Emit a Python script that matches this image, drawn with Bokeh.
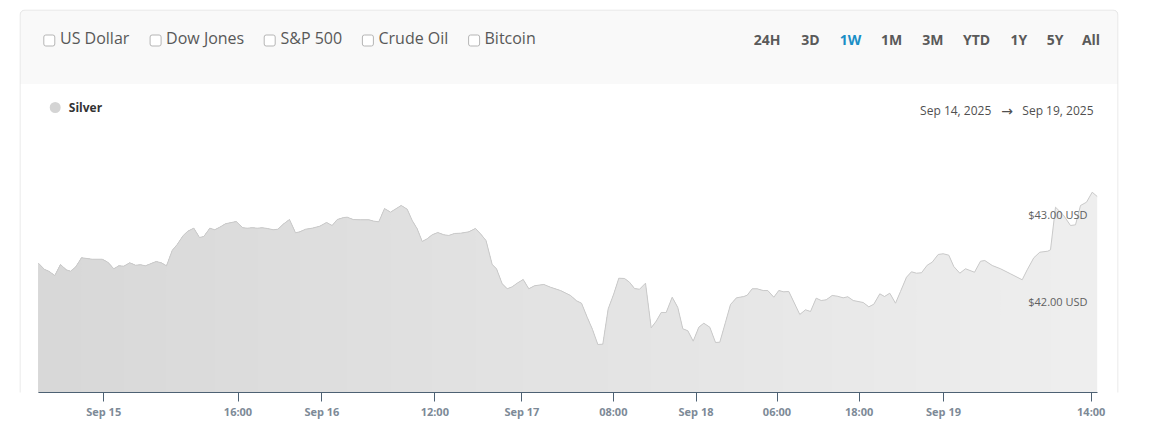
import numpy as np
from bokeh.plotting import figure
from bokeh.models import Range1d, FixedTicker, Label, BoxAnnotation
from bokeh.embed import file_html
from bokeh.resources import INLINE

# ---------------- data ----------------
series_name = "Silver"
x_idx = [0.0, 1.2, 2.06, 3.26, 4.4, 5.54, 6.4, 7.4, 8.6, 10.74, 12.74, 13.86, 15.06, 16.06, 17.06,
         18.26, 19.4, 20.4, 21.4, 23.54, 24.54, 25.6, 26.74, 27.74, 28.94, 29.86, 31.06, 32.2, 33.06,
         34.26, 35.26, 36.26, 37.4, 39.54, 40.86, 41.74, 42.74, 43.74, 44.74, 45.74, 46.94, 47.86,
         49.06, 50.2, 51.4, 52.26, 53.4, 54.74, 56.26, 57.6, 58.74, 59.74, 61.06, 61.74, 62.94, 64.4,
         66.06, 67.06, 68.06, 69.2, 70.4, 72.54, 73.74, 74.74, 75.74, 76.74, 77.74, 78.74, 79.86,
         81.06, 82.06, 83.2, 84.4, 86.06, 87.4, 88.4, 89.5, 90.74, 91.6, 92.74, 93.74, 94.74, 95.74,
         96.94, 98.06, 99.2, 101.06, 102.4, 104.4, 106.4, 107.6, 108.6, 109.74, 110.8, 111.86,
         112.86, 113.94, 115.06, 116.06, 117.2, 118.2, 119.2, 120.2, 121.4, 122.54, 123.54, 124.54,
         125.54, 126.74, 127.86, 128.86, 129.86, 130.94, 132.06, 133.06, 134.26, 135.4, 136.26,
         137.4, 138.4, 139.6, 141.06, 141.74, 142.74, 143.74, 144.94, 145.86, 147.06, 148.06,
         149.06, 150.06, 152.26, 153.4, 154.4, 155.54, 156.54, 157.54, 158.74, 159.74, 160.94,
         161.86, 162.94, 164.94, 166.06, 167.06, 168.26, 169.2, 170.26, 171.4, 172.4, 173.6, 174.6,
         175.6, 176.6, 177.74, 178.74, 179.94, 180.94, 182.06, 183.06, 184.26, 185.4, 187.2, 188.4,
         189.26, 190.74, 192.4, 194.4, 196.74, 197.74, 199.06, 200.26, 201.86, 202.4, 203.4,
         204.94, 206.4, 207.4, 208.4, 209.6, 210.74, 211.74]
price = [42.438, 42.366, 42.346, 42.296, 42.423, 42.362, 42.346, 42.392, 42.501, 42.484, 42.484,
         42.450, 42.374, 42.408, 42.404, 42.443, 42.415, 42.420, 42.408, 42.458, 42.443, 42.408,
         42.585, 42.654, 42.758, 42.807, 42.842, 42.735, 42.746, 42.842, 42.824, 42.854, 42.893,
         42.919, 42.847, 42.842, 42.847, 42.842, 42.847, 42.839, 42.824, 42.830, 42.893, 42.942,
         42.789, 42.800, 42.830, 42.842, 42.865, 42.908, 42.873, 42.942, 42.965, 42.969, 42.942,
         42.939, 42.939, 42.923, 42.916, 43.069, 43.027, 43.104, 43.061, 42.931, 42.835, 42.689,
         42.720, 42.766, 42.792, 42.766, 42.758, 42.781, 42.784, 42.800, 42.839, 42.777, 42.700,
         42.423, 42.374, 42.201, 42.143, 42.166, 42.208, 42.250, 42.143, 42.178, 42.193, 42.161,
         42.123, 42.066, 42.005, 41.977, 41.815, 41.674, 41.501, 41.504, 41.912, 42.085, 42.265,
         42.262, 42.219, 42.146, 42.138, 42.208, 41.693, 41.769, 41.870, 41.870, 42.046, 41.927,
         41.682, 41.659, 41.539, 41.700, 41.746, 41.700, 41.524, 41.527, 41.758, 41.962, 42.039,
         42.054, 42.069, 42.143, 42.143, 42.123, 42.123, 42.046, 42.123, 42.108, 42.112, 41.847,
         41.901, 41.881, 42.035, 42.008, 42.016, 42.066, 42.058, 42.039, 42.051, 42.008, 41.985,
         41.935, 41.965, 42.085, 42.054, 42.092, 41.977, 42.112, 42.277, 42.339, 42.323, 42.328,
         42.415, 42.450, 42.539, 42.547, 42.531, 42.400, 42.323, 42.374, 42.334, 42.461, 42.469,
         42.412, 42.374, 42.316, 42.247, 42.362, 42.501, 42.565, 42.577, 42.593, 43.084, 42.997,
         42.873, 42.881, 43.104, 43.142, 43.257, 43.208]

tick_pos = [13.04, 39.9, 56.68, 79.26, 96.68, 114.96, 131.5, 147.7, 164.12, 181.0, 210.54]
tick_labels = ["Sep 15", "16:00", "Sep 16", "12:00", "Sep 17", "08:00", "Sep 18", "06:00",
               "18:00", "Sep 19", "14:00"]
y_ticks = [42.0, 43.0]
y_tick_labels = ["$42.00 USD", "$43.00 USD"]
compare_items = ["US Dollar", "Dow Jones", "S&P 500", "Crude Oil", "Bitcoin"]
range_buttons = ["24H", "3D", "1W", "1M", "3M", "YTD", "1Y", "5Y", "All"]
active_range = "1W"
date_from = "Sep 14, 2025"
date_to = "Sep 19, 2025"

# ---------------- layout / style ----------------
FONT = "Open Sans"
W, H = 1151, 425
FRAME_L, FRAME_R, FRAME_T, FRAME_B = 19, 1118, 9, 392   # page pixels of the frame (card)
DATA_L, DATA_R = 38.0, 1096.7                             # page pixels where the series starts/ends
PX_PER_USD, Y_REF_PX, Y_REF_VAL = 86.7, 214.0, 43.0
frame_w = FRAME_R - FRAME_L


def sx(px):
    return px - FRAME_L


def sy(py):
    return FRAME_B - py


xs = np.array(x_idx)
ys = np.array(price)
ux = (xs[-1] - xs[0]) / (DATA_R - DATA_L)          # x units per pixel
x_start = xs[0] - (DATA_L - FRAME_L) * ux
x_end = xs[-1] + (FRAME_R - DATA_R) * ux
y_start = Y_REF_VAL - (FRAME_B - Y_REF_PX) / PX_PER_USD
y_end = Y_REF_VAL + (Y_REF_PX - FRAME_T) / PX_PER_USD

p = figure(width=W, height=H,
           x_range=Range1d(x_start, x_end), y_range=Range1d(y_start, y_end),
           output_backend="svg", toolbar_location=None, y_axis_location=None,
           min_border_left=FRAME_L, min_border_right=W - FRAME_R,
           min_border_top=FRAME_T, min_border_bottom=H - FRAME_B,
           background_fill_color="white", border_fill_color="white", outline_line_color=None)
p.grid.visible = False


def sbox(left, right, top, bottom, **kw):
    return BoxAnnotation(left=left, right=right, top=top, bottom=bottom,
                         left_units="screen", right_units="screen", top_units="screen",
                         bottom_units="screen", **kw)


# header background + card border
p.add_layout(sbox(0.5, frame_w - 0.5, sy(9.5), sy(83.5), fill_color="#f9f9f9", fill_alpha=1.0,
                  line_color=None, border_radius=(5, 5, 0, 0), level="underlay"))
p.add_layout(sbox(0.5, frame_w - 0.5, sy(9.5), -20, fill_color=None, fill_alpha=0,
                  line_color="#e3e3e3", line_alpha=1.0, line_width=1, border_radius=5,
                  level="underlay"))

# compare checkboxes
box_x = [43.3, 149.6, 263.7, 361.9, 468.1]
text_x = [59.5, 165.6, 280.0, 378.0, 484.0]
for bx, tx, name in zip(box_x, text_x, compare_items):
    p.add_layout(sbox(sx(bx), sx(bx + 11), sy(34.5), sy(45.5), fill_color="white", fill_alpha=1.0,
                      line_color="#b5b5b5", line_alpha=1.0, line_width=1, border_radius=2))
    p.add_layout(Label(x=sx(tx), y=sy(37.8), x_units="screen", y_units="screen", text=name,
                       text_font=FONT, text_font_size="16px", text_color="#585858",
                       text_align="left", text_baseline="middle"))

# range buttons
btn_x = [766.5, 810.0, 850.0, 891.0, 932.4, 976.0, 1018.4, 1054.5, 1090.5]
for bx, name in zip(btn_x, range_buttons):
    p.add_layout(Label(x=sx(bx), y=sy(38.7), x_units="screen", y_units="screen", text=name,
                       text_font=FONT, text_font_size="14px", text_font_style="bold",
                       text_color="#1a8ec6" if name == active_range else "#5a5a5a",
                       text_align="center", text_baseline="middle"))

# legend
p.add_layout(sbox(sx(49.2), sx(60.2), sy(101.5), sy(112.5), fill_color="#d4d4d4", fill_alpha=1.0,
                  line_color=None, border_radius=6))
p.add_layout(Label(x=sx(68.3), y=sy(107), x_units="screen", y_units="screen", text=series_name,
                   text_font=FONT, text_font_size="12px", text_font_style="bold",
                   text_color="#333333", text_align="left", text_baseline="middle"))

# date range
p.add_layout(Label(x=sx(919.6), y=sy(109.5), x_units="screen", y_units="screen", text=date_from,
                   text_font=FONT, text_font_size="12px", text_color="#505050",
                   text_align="left", text_baseline="middle"))
p.add_layout(Label(x=sx(1006.7), y=sy(110.5), x_units="screen", y_units="screen", text="\u2192",
                   text_font="DejaVu Sans", text_font_size="14px", text_color="#505050",
                   text_align="center", text_baseline="middle"))
p.add_layout(Label(x=sx(1093), y=sy(109.5), x_units="screen", y_units="screen", text=date_to,
                   text_font=FONT, text_font_size="12px", text_color="#505050",
                   text_align="right", text_baseline="middle"))

# area with horizontal gradient (stacked opaque layers)
base = y_start
left_rgb = np.array([216, 216, 216])
right_rgb = np.array([238, 238, 238])
n_layers = 24
for j in range(n_layers, 0, -1):
    lim = xs[0] + (xs[-1] - xs[0]) * j / n_layers + 1e-9
    k = int(np.searchsorted(xs, lim, side="right"))
    if k < 2:
        continue
    t = (j - 0.5) / n_layers
    rgb = (left_rgb + (right_rgb - left_rgb) * t).round().astype(int)
    col = "#%02x%02x%02x" % tuple(rgb)
    p.varea(x=xs[:k], y1=base, y2=ys[:k], fill_color=col, fill_alpha=1.0)
p.line(xs, ys, line_color="#c9c9c9", line_width=1)

# y value labels inside the plot
for v, lab in zip(y_ticks, y_tick_labels):
    p.add_layout(Label(x=sx(1087), y=v, x_units="screen", y_units="data", text=lab,
                       text_font=FONT, text_font_size="11px", text_color="#606060",
                       text_align="right", text_baseline="middle"))

# x axis
ax = p.xaxis[0]
ax.bounds = (float(xs[0]), float(xs[-1]))
ax.ticker = FixedTicker(ticks=tick_pos, minor_ticks=[])
ax.major_label_overrides = {t: l for t, l in zip(tick_pos, tick_labels)}
ax.axis_line_color = "#4d6173"
ax.axis_line_width = 1
ax.major_tick_line_color = "#4d6173"
ax.major_tick_out = 9
ax.major_tick_in = 0
ax.minor_tick_line_color = None
ax.major_label_standoff = 2
ax.major_label_text_font = FONT
ax.major_label_text_font_size = "11px"
ax.major_label_text_font_style = "bold"
ax.major_label_text_color = "#7d8a97"

open("out.html", "w").write(file_html(p, INLINE))
